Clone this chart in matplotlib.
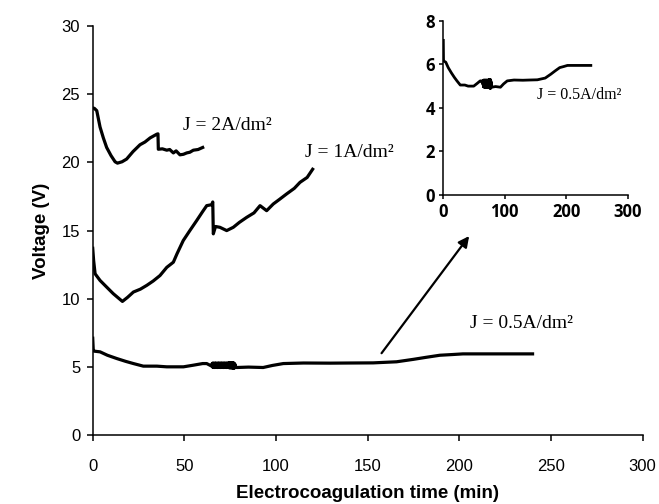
import matplotlib
matplotlib.use("Agg")
import matplotlib.pyplot as plt

# J = 2 A/dm2
t_2 = [0, 0.9, 2.2, 4, 5.8, 7.6, 10, 12.2, 13.5, 16, 18.5, 22, 25.8, 28.5, 31.3,
       34.9, 35.6, 35.8, 38, 40.4, 42, 44, 45.5, 47.6, 49.5, 51.3, 53, 54.9, 57.5, 60]
v_2 = [24.0, 23.97, 23.8, 22.6, 21.8, 21.1, 20.5, 20.05, 19.95, 20.05, 20.25, 20.8,
       21.3, 21.5, 21.8, 22.07, 22.1, 20.97, 21.0, 20.9, 20.95, 20.7, 20.85, 20.56,
       20.6, 20.7, 20.75, 20.9, 20.95, 21.1]

# J = 1 A/dm2
t_1 = [0, 0.5, 1.3, 4, 8, 11.2, 16.2, 19, 22.2, 26, 29.5, 33, 36.7, 40.4, 44, 46,
       49.4, 53, 56.7, 60, 62.2, 64.9, 65.5, 65.8, 67, 69.4, 73.1, 76.7, 80, 84, 88,
       91.3, 94.9, 98.5, 102, 105.8, 110, 113.1, 117, 120]
v_1 = [13.7, 12.8, 11.83, 11.34, 10.8, 10.37, 9.8, 10.1, 10.49, 10.7, 10.98, 11.3,
       11.7, 12.3, 12.68, 13.3, 14.27, 15.0, 15.73, 16.4, 16.83, 16.9, 17.1, 14.76,
       15.3, 15.24, 15.0, 15.24, 15.6, 15.97, 16.3, 16.83, 16.46, 16.95, 17.3, 17.69,
       18.1, 18.54, 18.9, 19.5]

# J = 0.5 A/dm2 (noisy stretch between 65 and 78 min)
t_05 = [0, 0.3, 0.8, 4, 8, 13.1, 18, 22.2, 27.6, 35, 40.4, 49.5, 54.9, 60, 62.2, 64.9,
        65.2, 65.4, 65.6, 65.8, 66.0, 66.2, 66.4, 66.6, 66.8, 67.0, 67.2, 67.4, 67.6,
        67.8, 68.0, 68.2, 68.4, 68.6, 68.8, 69.0, 69.2, 69.4, 69.6, 69.8, 70.0, 70.2,
        70.4, 70.6, 70.8, 71.0, 71.2, 71.4, 71.6, 71.8, 72.0, 72.2, 72.4, 72.6, 72.8,
        73.0, 73.2, 73.4, 73.6, 73.8, 74.0, 74.2, 74.4, 74.6, 74.8, 75.0, 75.2, 75.4,
        75.6, 75.8, 76.0, 76.2, 76.4, 76.6, 76.8, 77.0, 77.2, 77.4, 77.6, 77.8, 78.0,
        78.5, 85, 93, 98, 104, 115, 129.5, 140, 153, 165.8, 175, 182, 189.4, 196, 202,
        220, 240]
v_05 = [7.1, 6.22, 6.15, 6.1, 5.85, 5.61, 5.4, 5.24, 5.05, 5.05, 5.0, 5.0, 5.12, 5.24,
        5.24, 5.05,
        5.25, 4.98, 5.28, 4.96, 5.25, 4.97, 5.27, 4.95, 5.26, 4.98, 5.28, 4.96, 5.24,
        4.97, 5.27, 4.95, 5.26, 4.98, 5.28, 4.96, 5.25, 4.97, 5.27, 4.95, 5.26, 4.98,
        5.28, 4.96, 5.25, 4.97, 5.27, 4.95, 5.26, 4.98, 5.28, 4.96, 5.25, 4.97, 5.27,
        4.95, 5.26, 4.98, 5.28, 4.96, 5.25, 4.97, 5.3, 4.92, 5.28, 4.94, 5.3, 4.92,
        5.27, 4.95, 5.3, 4.9, 5.28, 4.93, 5.3, 4.9, 5.25, 4.92, 5.2, 4.95, 5.0,
        4.95, 4.98, 4.95, 5.1, 5.24, 5.28, 5.27, 5.28, 5.29, 5.37, 5.55, 5.7, 5.85,
        5.9, 5.95, 5.95, 5.95]

labels = ["J = 2A/dm²", "J = 1A/dm²", "J = 0.5A/dm²"]

plt.rcParams['font.family'] = ['Liberation Sans', 'DejaVu Sans']

fig = plt.figure(figsize=(6.59, 5.04), dpi=100)
ax = fig.add_axes([0.1407, 0.137, 0.8343, 0.811])

for t, v in [(t_2, v_2), (t_1, v_1), (t_05, v_05)]:
    ax.plot(t, v, color='black', lw=2.3, solid_joinstyle='round')

ax.set_xlim(0, 300)
ax.set_ylim(0, 30)
ax.set_xticks([0, 50, 100, 150, 200, 250, 300])
ax.set_yticks([0, 5, 10, 15, 20, 25, 30])
ax.spines['top'].set_visible(False)
ax.spines['right'].set_visible(False)
for s in ['left', 'bottom']:
    ax.spines[s].set_linewidth(1.1)
ax.tick_params(axis='x', direction='out', length=4, width=1.1, pad=13, labelsize=12)
ax.tick_params(axis='y', direction='out', length=4, width=1.1, pad=5, labelsize=12)
ax.set_xlabel("Electrocoagulation time (min)", fontsize=13.5, fontweight='bold', labelpad=8)
ax.set_ylabel("Voltage (V)", fontsize=13.5, fontweight='bold', labelpad=8)

serif = ['Liberation Serif', 'DejaVu Serif']
ax.text(49.4, 22.7, labels[0], family=serif, fontsize=14, va='center', ha='left')
ax.text(115.8, 20.7, labels[1], family=serif, fontsize=14, va='center', ha='left')
ax.text(205.8, 8.16, labels[2], family=serif, fontsize=14, va='center', ha='left')

ax.annotate('', xy=(205.4, 14.6), xytext=(157.6, 6.0),
            arrowprops=dict(arrowstyle='-|>', lw=1.6, color='black', mutation_scale=16,
                            shrinkA=0, shrinkB=0))

# inset
ins = fig.add_axes([0.6727, 0.613, 0.2798, 0.3458])
ins.plot(t_05, v_05, color='black', lw=2.0, solid_joinstyle='round')
ins.set_xlim(0, 300)
ins.set_ylim(0, 8)
ins.set_xticks([0, 100, 200, 300])
ins.set_yticks([0, 2, 4, 6, 8])
ins.spines['top'].set_visible(False)
ins.spines['right'].set_visible(False)
for s in ['left', 'bottom']:
    ins.spines[s].set_linewidth(1.1)
ins.tick_params(direction='out', length=3, width=1.1, pad=3, labelsize=12)
for lab in ins.get_xticklabels() + ins.get_yticklabels():
    lab.set_family(['Open Sans', 'DejaVu Sans'])
    lab.set_fontweight('bold')
ins.text(152, 4.59, labels[2], family=serif, fontsize=11.5, va='center', ha='left')

fig.savefig("out.png", dpi=100)
